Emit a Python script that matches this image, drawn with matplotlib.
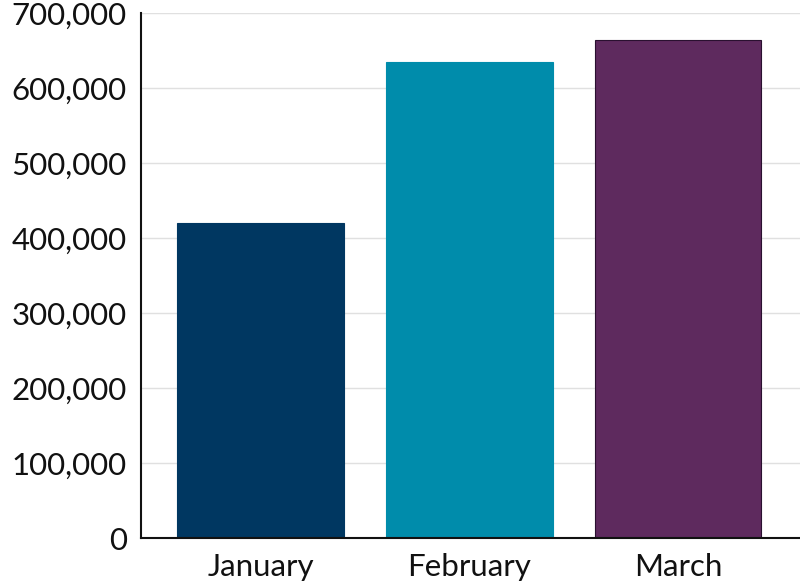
import matplotlib.pyplot as plt
from matplotlib.ticker import FuncFormatter

months = ["January", "February", "March"]
totals = [420000, 635000, 665000]
bar_colors = ["#003761", "#008CAB", "#5E2A5E"]
edge_colors = ["#003761", "#008CAB", "#2a1030"]
y_ticks = [0, 100000, 200000, 300000, 400000, 500000, 600000, 700000]

plt.rcParams['font.family'] = ['Lato', 'DejaVu Sans']

fig = plt.figure(figsize=(8, 5.85), dpi=100)
ax = fig.add_axes([0.176, 0.08, 0.824, 0.897])

ax.bar(range(len(months)), totals, width=0.8, color=bar_colors,
       edgecolor=edge_colors, linewidth=0.8, zorder=3)

ax.set_xlim(-0.575, 2.585)
ax.set_ylim(0, 700000)
ax.set_yticks(y_ticks)
ax.yaxis.set_major_formatter(FuncFormatter(lambda v, p: f"{int(v):,}"))
ax.set_xticks(range(len(months)))
ax.set_xticklabels(months)

ax.grid(axis='y', color='#e0e0e0', linewidth=1, zorder=0)
ax.tick_params(axis='both', length=0, labelsize=22.5, colors='#111111')
ax.tick_params(axis='y', pad=10)
ax.tick_params(axis='x', pad=11)

for s in ['top', 'right']:
    ax.spines[s].set_visible(False)
for s in ['left', 'bottom']:
    ax.spines[s].set_linewidth(1.5)
    ax.spines[s].set_color('#111111')
    ax.spines[s].set_zorder(4)

fig.savefig("out.png", dpi=100)
